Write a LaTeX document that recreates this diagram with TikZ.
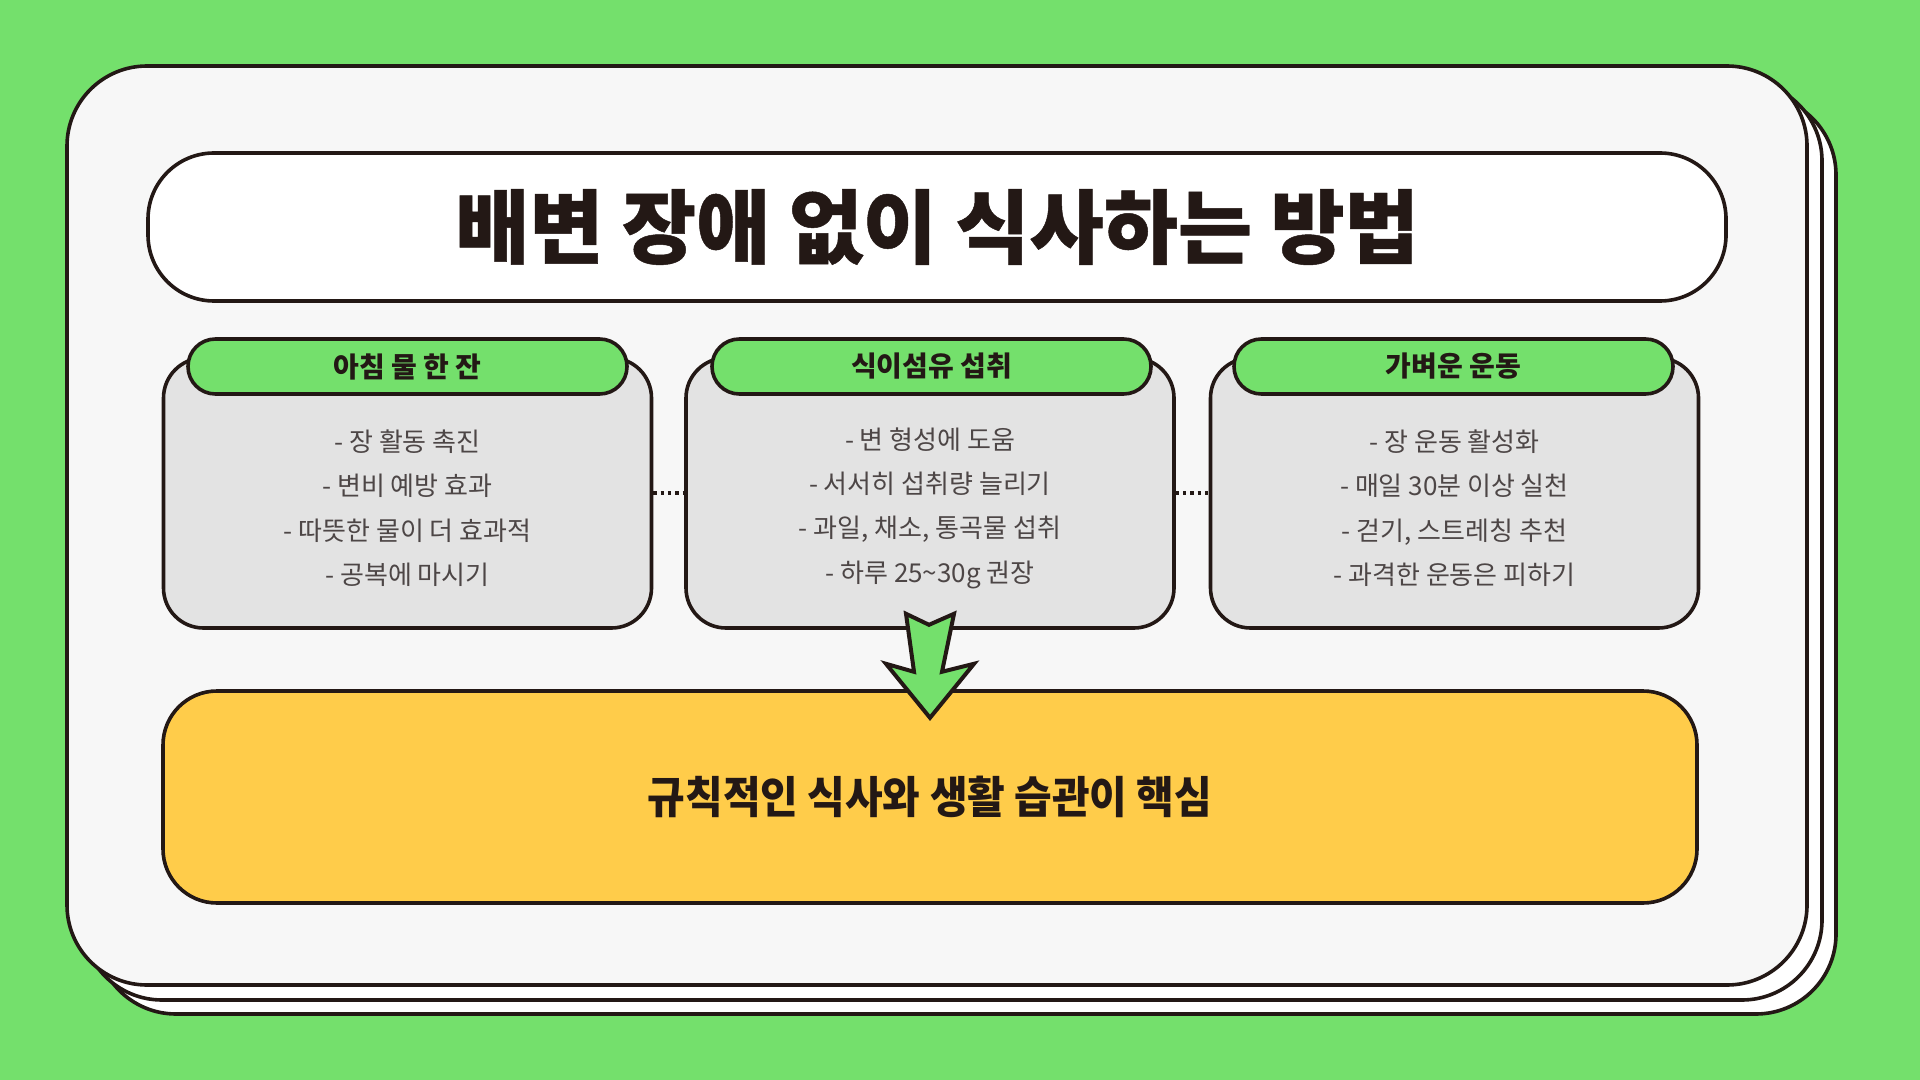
\documentclass[tikz,border=0pt]{standalone}
\usepackage{fontspec}
\setmainfont{Noto Sans CJK KR}
\newfontfamily\titlefont{Noto Sans CJK KR}[FakeBold=0.6]
\newfontfamily\condfont{Noto Sans CJK KR}[FakeStretch=0.93]
\definecolor{bggreen}{HTML}{74E06C}
\definecolor{inkc}{HTML}{231815}
\definecolor{cardc}{HTML}{F7F7F7}
\definecolor{greyc}{HTML}{E3E3E3}
\definecolor{yellowc}{HTML}{FFCC4A}
\definecolor{bodyc}{HTML}{4D4646}
\tikzset{
  ink/.style={draw=inkc, line width=1.8pt},
  sheet/.style={ink, fill=white, rounded corners=40pt, minimum width=870pt, minimum height=459.5pt, inner sep=0pt},
  card/.style={ink, fill=cardc, rounded corners=40pt, minimum width=870pt, minimum height=459.5pt, inner sep=0pt},
  titlebox/.style={ink, fill=white, rounded corners=33pt, minimum width=789pt, minimum height=74pt, inner sep=0pt,
    font=\titlefont\bfseries\fontsize{40.3}{48}\selectfont, text=inkc},
  infobox/.style={ink, fill=greyc, rounded corners=20pt, minimum width=244pt, minimum height=135pt, inner sep=0pt},
  headbox/.style={ink, fill=bggreen, rounded corners=13.7pt, minimum width=219.5pt, minimum height=27.5pt, inner sep=0pt,
    font=\bfseries\fontsize{14}{16}\selectfont, text=inkc},
  listtext/.style={align=center, font=\fontsize{13}{22.2}\selectfont, text=bodyc, inner sep=0pt},
  goalbox/.style={ink, fill=yellowc, rounded corners=27pt, minimum width=767pt, minimum height=106pt, inner sep=0pt,
    font=\condfont\bfseries\fontsize{22}{26}\selectfont, text=inkc},
  dotline/.style={draw=inkc, line width=1.65pt, dash pattern=on 1.65pt off 2pt},
  arrowshape/.style={draw=inkc, line width=2pt, fill=bggreen, line join=miter}
}
\begin{document}
\begin{tikzpicture}[x=0.5pt,y=-0.5pt]
\fill[bggreen] (0,0) rectangle (1920,1080);
\useasboundingbox (0,0) rectangle (1920,1080);
% stacked sheets and card
\node[sheet] (s3) at (966,554.5) {};
\node[sheet] (s2) at (952,540.5) {};
\node[card] (card) at (937,525.5) {};
% title
\node[titlebox] (title) at (937,227) {배변 장애 없이 식사하는 방법};
% three info boxes
\node[infobox] (b1) at (407.5,493) {};
\node[infobox] (b2) at (930,493) {};
\node[infobox] (b3) at (1454.5,493) {};
\node[headbox] (h1) at (407.5,366.5) {아침 물 한 잔};
\node[headbox] (h2) at (931.5,366.5) {식이섬유 섭취};
\node[headbox] (h3) at (1453.5,366.5) {가벼운 운동};
\node[listtext] (l1) at (407.5,508) {- 장 활동 촉진\\- 변비 예방 효과\\- 따뜻한 물이 더 효과적\\- 공복에 마시기};
\node[listtext] (l2) at (930,508) {- 변 형성에 도움\\- 서서히 섭취량 늘리기\\- 과일, 채소, 통곡물 섭취\\- 하루 25\textasciitilde30g 권장};
\node[listtext] (l3) at (1454.5,508) {- 장 운동 활성화\\- 매일 30분 이상 실천\\- 걷기, 스트레칭 추천\\- 과격한 운동은 피하기};
% dotted links
\draw[dotline] (b1.east) -- (b2.west);
\draw[dotline] (b2.east) -- (b3.west);
% goal box
\node[goalbox] (goal) at (930,797) {규칙적인 식사와 생활 습관이 핵심};
% arrow from middle box to goal
\begin{scope}[shift={(b2.south)}]
\filldraw[arrowshape] (-24,-16) -- (-1,-5) -- (24,-16) -- (12,42) -- (44,34) -- (0,88) -- (-44,34) -- (-16,42) -- cycle;
\end{scope}
\end{tikzpicture}
\end{document}
